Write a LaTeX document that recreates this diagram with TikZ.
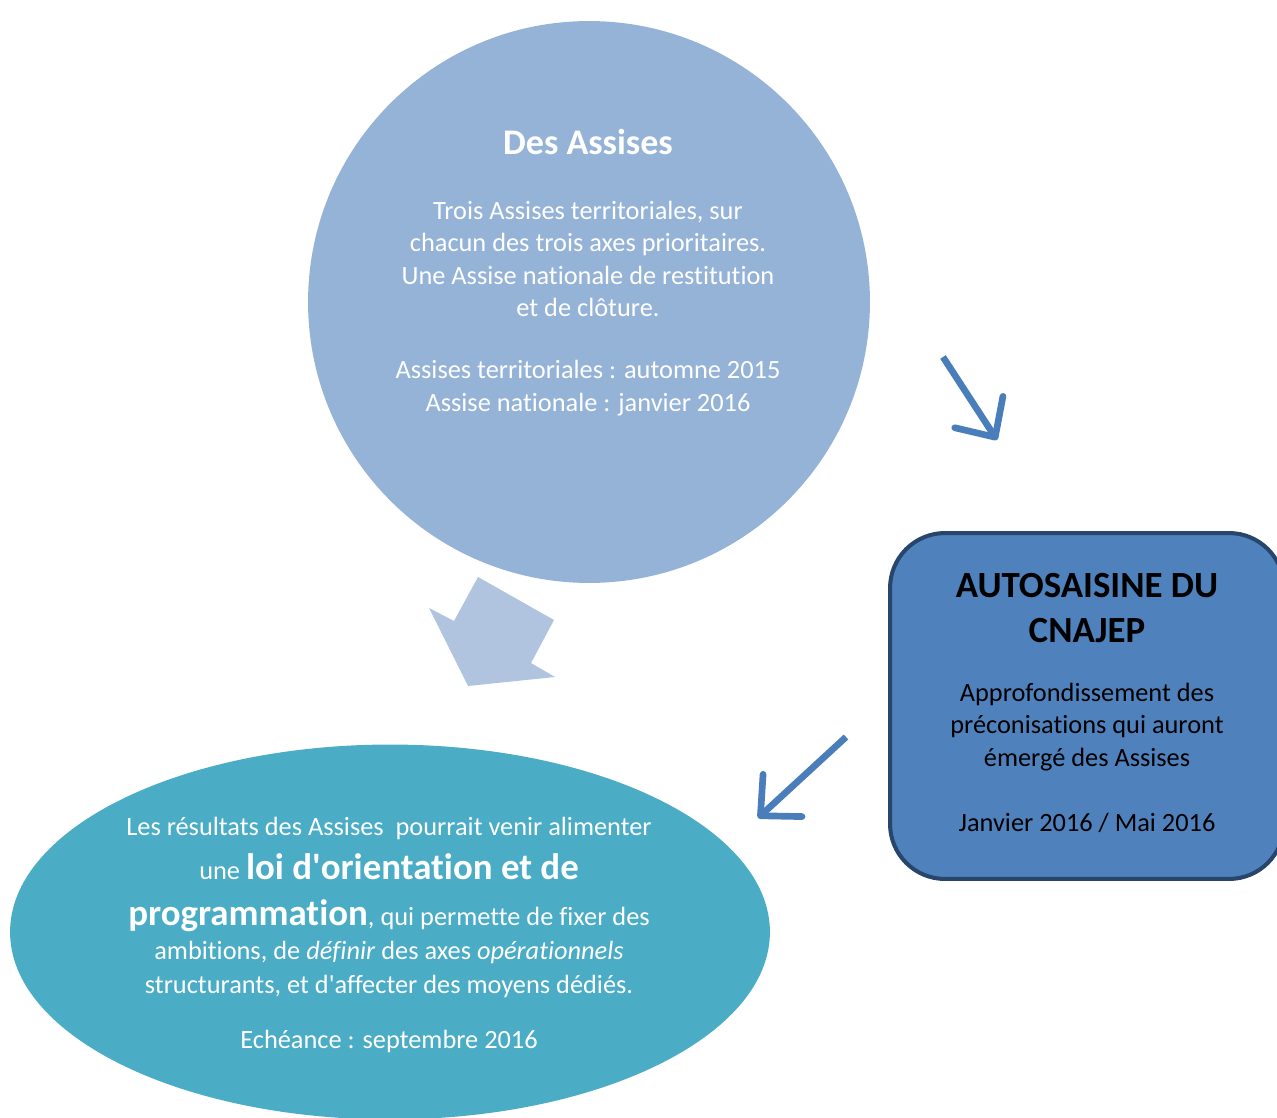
\documentclass[tikz,border=0pt]{standalone}
\usepackage{fontspec}
\setmainfont{Carlito}[Ligatures=NoCommon]
\usetikzlibrary{arrows.meta,shapes.geometric}
\definecolor{assisebleu}{HTML}{95B3D7}
\definecolor{grossefleche}{HTML}{B0C3DF}
\definecolor{flechebleu}{HTML}{4A7EBB}
\definecolor{cnajepfond}{HTML}{4F81BD}
\definecolor{cnajepbord}{HTML}{28456B}
\definecolor{loibleu}{HTML}{4BACC6}

\begin{document}
\begin{tikzpicture}[x=0.02cm,y=-0.02cm,
   blanc/.style={text=white,align=center,inner sep=0pt},
   noir/.style={text=black,align=center,inner sep=0pt},
   fleche/.style={draw=flechebleu,line width=3.8pt,
      -{Straight Barb[length=0.6cm,width=1.15cm,round]}},
   petit/.style={font=\fontsize{15}{18.4}\selectfont}]
   \path[use as bounding box,clip] (0,0) rectangle (1277,1118);

   \node[circle,minimum size=11.24cm,inner sep=0pt,fill=assisebleu] (assises) at (589,302) {};
   \node[ellipse,minimum width=15.2cm,minimum height=7.5cm,inner sep=0pt,fill=loibleu] (loi) at (390,932) {};
   \node[rectangle,rounded corners=1.1cm,minimum width=7.88cm,minimum height=6.92cm,
      draw=cnajepbord,line width=2.3pt,fill=cnajepfond] (cnajep) at (1087,706) {};

   \fill[grossefleche] (468,686) -- (429,608) -- (454,621) -- (478,577) -- (554,620)
      -- (531,663) -- (555,677) -- cycle;

   \coordinate (f1a) at (943,357);
   \coordinate (f1b) at (997,440);
   \coordinate (f2a) at (846,737);
   \coordinate (f2b) at (758,818);
   \draw[fleche] (f1a) -- (f1b);
   \draw[fleche] (f2a) -- (f2b);

   \node[blanc,font=\bfseries\fontsize{20.5}{24}\selectfont] (titre) at (588,142) {Des Assises};
   \node[blanc,petit] (axes) at (588,259) {Trois Assises territoriales, sur\\
      chacun des trois axes prioritaires.\\Une Assise nationale de restitution\\et de clôture.};
   \node[blanc,petit] (dates) at (588,388) {Assises territoriales : automne 2015\\
      Assise nationale : janvier 2016};

   \node[noir,font=\bfseries\fontsize{21}{26}\selectfont] (autosaisine) at (1087,608) {AUTOSAISINE DU\\CNAJEP};
   \node[noir,font=\fontsize{15}{18.5}\selectfont] (approf) at (1087,727) {Approfondissement des\\
      préconisations qui auront\\émergé des Assises};
   \node[noir,font=\fontsize{15}{18.5}\selectfont] (mai) at (1087,823) {Janvier 2016 / Mai 2016};

   \node[blanc,petit,anchor=base] (l1) at (389,835) {Les résultats des Assises~ pourrait venir alimenter};
   \node[blanc,petit,anchor=base] (l2) at (389,879) {une {\bfseries\fontsize{21}{25}\selectfont loi
      d\textquotesingle orientation et de}};
   \node[blanc,petit,anchor=base] (l3) at (389,925) {{\bfseries\fontsize{21}{25}\selectfont programmation},
      qui permette de fixer des};
   \node[blanc,petit,anchor=base] (l4) at (389,959) {ambitions, de \textit{définir} des axes \textit{opérationnels}};
   \node[blanc,petit,anchor=base] (l5) at (389,993) {structurants, et d\textquotesingle affecter des moyens dédiés.};
   \node[blanc,petit,anchor=base] (echeance) at (389,1048) {Echéance : septembre 2016};
\end{tikzpicture}
\end{document}
